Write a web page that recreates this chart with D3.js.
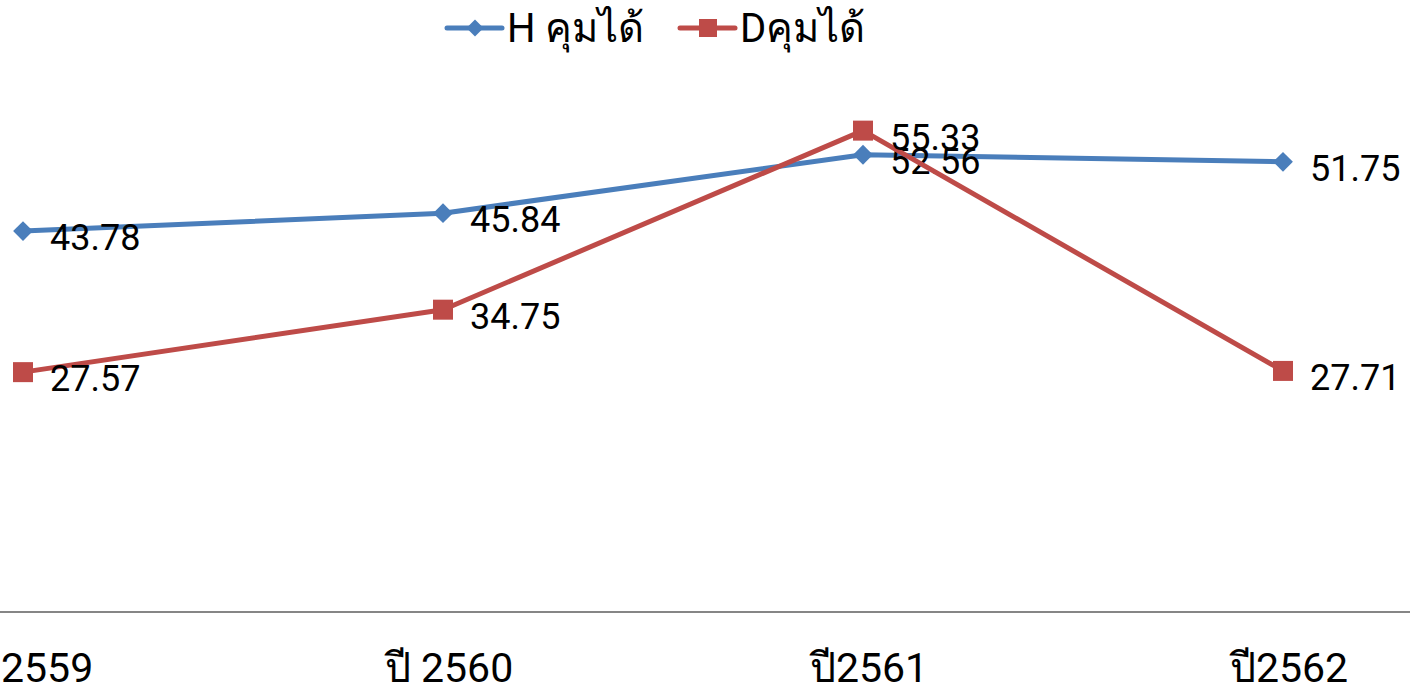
<!DOCTYPE html>
<html>
<head>
<meta charset="utf-8">
<script src="https://cdn.jsdelivr.net/npm/d3@7"></script>
<style>
    body { margin: 0; background: #fff; }
    svg text { font-family: Roboto, "Noto Sans", sans-serif; fill: #000; }
</style>
</head>
<body>
<div class="view"></div>
<script>
var width = 1410;
var height = 686;

var categories = ["ปี 2559", "ปี 2560", "ปี2561", "ปี2562"];
var seriesNames = ["H คุมได้", "Dคุมได้"];
var hValues = [43.78, 45.84, 52.56, 51.75];
var dValues = [27.57, 34.75, 55.33, 27.71];

var colors = ["#4A7EBB", "#BE4B48"];

var svg = d3.select(".view")
    .append("svg")
    .attr("width", width)
    .attr("height", height);

var x = d3.scalePoint()
    .domain(categories)
    .range([23, 1283]);

var y = d3.scaleLinear()
    .domain([0, 70])
    .range([612, 3]);

// category axis
var axis = svg.append("g")
    .attr("transform", "translate(0," + y(0) + ")");

axis.append("line")
    .attr("x1", 0)
    .attr("x2", width)
    .attr("stroke", "#868686")
    .attr("stroke-width", 2);

axis.selectAll("text")
    .data(categories)
    .enter().append("text")
    .attr("x", function (d) { return x(d) + 6; })
    .attr("y", 70)
    .attr("text-anchor", "middle")
    .attr("font-size", 41)
    .text(function (d) { return d; });

var series = [hValues, dValues];

var line = d3.line()
    .x(function (d, i) { return x(categories[i]); })
    .y(function (d) { return y(d); });

series.forEach(function (vals, s) {
    var g = svg.append("g");

    g.append("path")
        .datum(vals)
        .attr("fill", "none")
        .attr("stroke", colors[s])
        .attr("stroke-width", 5)
        .attr("stroke-linejoin", "round")
        .attr("d", line);

    g.selectAll(".marker")
        .data(vals)
        .enter().append("path")
        .attr("class", "marker")
        .attr("transform", function (d, i) {
            return "translate(" + x(categories[i]) + "," + y(d) + ")" + (s == 0 ? " rotate(45)" : "");
        })
        .attr("d", s == 0 ? "M-7,-7H7V7H-7Z" : "M-10,-10H10V10H-10Z")
        .attr("fill", colors[s]);

    g.selectAll(".lbl")
        .data(vals)
        .enter().append("text")
        .attr("class", "lbl")
        .attr("x", function (d, i) { return x(categories[i]) + 27; })
        .attr("y", function (d) { return y(d) + 19; })
        .attr("font-size", 36)
        .text(function (d) { return d.toFixed(2); });
});

// legend
var legend = svg.append("g");
var legendX = [447, 680];

seriesNames.forEach(function (name, s) {
    var lg = legend.append("g")
        .attr("transform", "translate(" + legendX[s] + ",28)");
    lg.append("line")
        .attr("x1", 0)
        .attr("x2", 55)
        .attr("stroke", colors[s])
        .attr("stroke-width", 5)
        .attr("stroke-linecap", "round");
    lg.append("path")
        .attr("transform", "translate(28,0)" + (s == 0 ? " rotate(45)" : ""))
        .attr("d", s == 0 ? "M-6,-6H6V6H-6Z" : "M-9,-9H9V9H-9Z")
        .attr("fill", colors[s]);
    lg.append("text")
        .attr("x", 60)
        .attr("y", 14)
        .attr("font-size", 40)
        .text(name);
});
</script>
</body>
</html>
